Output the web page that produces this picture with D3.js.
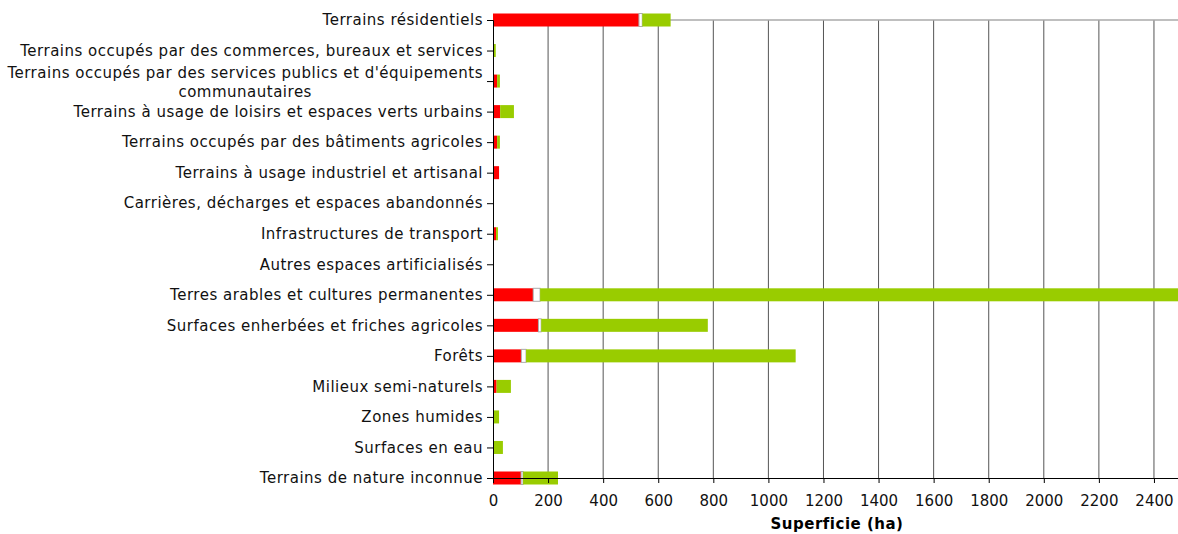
<!DOCTYPE html>
<html>
<head>
<meta charset="utf-8">
<script src="https://cdn.jsdelivr.net/npm/d3@7"></script>
<style>
  body { margin: 0; background: #fff; }
  text { font-family: "DejaVu Sans", Verdana, sans-serif; }
</style>
</head>
<body>
<svg id="chart" width="1178" height="534"></svg>
<script>
// catégories d'occupation du sol
const categories = [
  "Terrains résidentiels",
  "Terrains occupés par des commerces, bureaux et services",
  "Terrains occupés par des services publics et d'équipements|communautaires",
  "Terrains à usage de loisirs et espaces verts urbains",
  "Terrains occupés par des bâtiments agricoles",
  "Terrains à usage industriel et artisanal",
  "Carrières, décharges et espaces abandonnés",
  "Infrastructures de transport",
  "Autres espaces artificialisés",
  "Terres arables et cultures permanentes",
  "Surfaces enherbées et friches agricoles",
  "Forêts",
  "Milieux semi-naturels",
  "Zones humides",
  "Surfaces en eau",
  "Terrains de nature inconnue"
];

// valeurs (ha)
const redValues   = [530, 0, 15, 26, 15, 22, 0, 11, 0, 146, 165, 103, 13, 0, 0, 102];
const whiteValues = [12, 0, 0, 0, 0, 0, 0, 0, 0, 25, 10, 17, 0, 0, 0, 7];
const greenValues = [103, 10, 10, 50, 10, 0, 0, 7, 0, 2500, 605, 979, 52, 22, 36, 127];

const xTicks = [0, 200, 400, 600, 800, 1000, 1200, 1400, 1600, 1800, 2000, 2200, 2400];

const svg = d3.select("#chart");
const x0 = 493, yTop = 20, yBottom = 478;

const x = d3.scaleLinear().domain([0, 2500]).range([x0, x0 + 2500 * 0.2754]);
const y = d3.scalePoint().domain(d3.range(categories.length)).range([yTop, yBottom]);
const barH = 13;

// grille verticale
svg.append("g")
  .selectAll("line")
  .data(xTicks.slice(1))
  .join("line")
  .attr("x1", d => x(d)).attr("x2", d => x(d))
  .attr("y1", yTop).attr("y2", yBottom)
  .attr("stroke", "#555")
  .attr("stroke-width", 1);

// bordure haute
svg.append("line")
  .attr("x1", x0).attr("x2", 1178)
  .attr("y1", yTop).attr("y2", yTop)
  .attr("stroke", "#aaa")
  .attr("stroke-width", 1.5);

// barres empilées
const rows = categories.map((c, i) => {
  const r = redValues[i], w = whiteValues[i], g = greenValues[i];
  return [
    { i, start: 0, end: r, fill: "#ff0000", stroke: "none" },
    { i, start: r, end: r + w, fill: "#ffffff", stroke: "#aaaaaa" },
    { i, start: r + w, end: r + w + g, fill: "#99cc00", stroke: "none" }
  ];
}).flat().filter(d => d.end > d.start);

svg.append("g")
  .selectAll("rect")
  .data(rows)
  .join("rect")
  .attr("x", d => x(d.start))
  .attr("width", d => x(d.end) - x(d.start))
  .attr("y", d => y(d.i) - barH / 2)
  .attr("height", barH)
  .attr("fill", d => d.fill)
  .attr("stroke", d => d.stroke)
  .attr("stroke-width", d => d.stroke === "none" ? 0 : 1);

// axe Y
const yAxis = svg.append("g")
  .attr("transform", `translate(${x0},0)`)
  .call(d3.axisLeft(y).tickSize(6).tickFormat(""));
yAxis.select(".domain").attr("stroke", "#000");

const labels = svg.append("g")
  .attr("font-size", 15)
  .attr("letter-spacing", "0.5px")
  .attr("fill", "#111");
categories.forEach((c, i) => {
  const parts = c.split("|");
  if (parts.length === 1) {
    labels.append("text")
      .attr("x", x0 - 10).attr("y", y(i))
      .attr("dy", "0.35em")
      .attr("text-anchor", "end")
      .text(c);
  } else {
    const t = labels.append("text")
      .attr("x", x0 - 10).attr("y", y(i) - 8)
      .attr("dy", "0.35em")
      .attr("text-anchor", "end")
      .text(parts[0]);
    const w = t.node().getComputedTextLength();
    labels.append("text")
      .attr("x", x0 - 10 - w / 2).attr("y", y(i) + 11)
      .attr("dy", "0.35em")
      .attr("text-anchor", "middle")
      .text(parts[1]);
  }
});

// axe X
const xAxis = svg.append("g")
  .attr("transform", `translate(0,${yBottom})`)
  .call(d3.axisBottom(x).tickValues(xTicks).tickSize(5).tickPadding(12).tickFormat(d3.format("d")));
xAxis.select(".domain").attr("stroke", "#000").attr("d", `M${x0},0.5H1178`);
xAxis.selectAll("text").attr("font-size", 15).attr("fill", "#111")
  .attr("font-family", "'DejaVu Sans', Verdana, sans-serif");

svg.append("text")
  .attr("x", 837).attr("y", 529)
  .attr("text-anchor", "middle")
  .attr("font-size", 15)
  .attr("letter-spacing", "0.5px")
  .attr("font-weight", "bold")
  .text("Superficie (ha)");
</script>
</body>
</html>
